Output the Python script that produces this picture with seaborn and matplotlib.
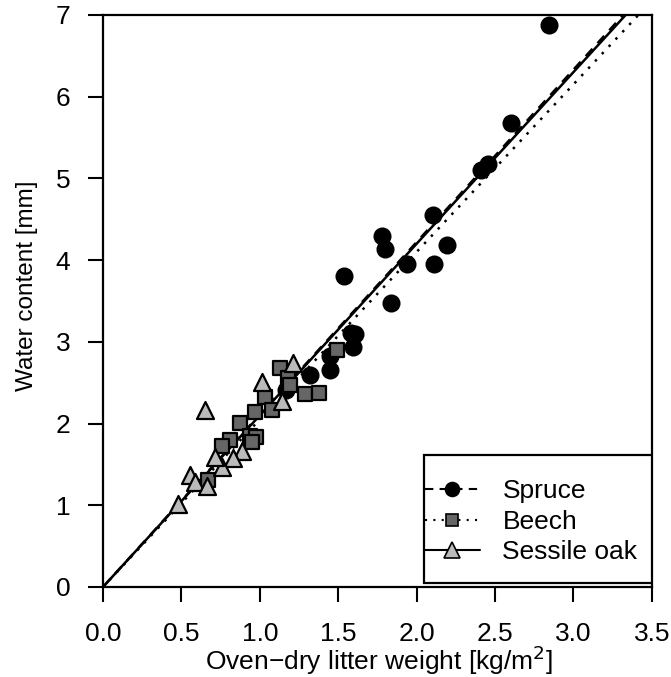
import numpy as np
import pandas as pd
import seaborn as sns
import matplotlib
matplotlib.use("Agg")
import matplotlib.pyplot as plt
from matplotlib.lines import Line2D
from matplotlib.patches import Rectangle

# ---- data ----
spruce_x = [2.845, 2.60, 2.456, 2.413, 2.105, 2.194, 2.112, 1.936, 1.776, 1.797,
            1.538, 1.836, 1.581, 1.606, 1.595, 1.447, 1.447, 1.319, 1.17]
spruce_y = [6.88, 5.68, 5.17, 5.10, 4.55, 4.19, 3.95, 3.95, 4.30, 4.13,
            3.81, 3.47, 3.105, 3.10, 2.94, 2.82, 2.66, 2.59, 2.41]
beech_x = [1.128, 1.18, 1.19, 1.032, 1.075, 0.969, 0.873, 0.809, 0.757, 0.937,
           0.975, 0.952, 0.671, 1.287, 1.377, 1.489]
beech_y = [2.68, 2.56, 2.47, 2.33, 2.17, 2.135, 2.01, 1.80, 1.72, 1.85,
           1.83, 1.77, 1.31, 2.36, 2.37, 2.90]
oak_x = [1.213, 1.011, 1.139, 0.65, 0.884, 0.83, 0.757, 0.714, 0.554, 0.586, 0.66, 0.48]
oak_y = [2.74, 2.51, 2.27, 2.17, 1.66, 1.575, 1.47, 1.595, 1.37, 1.29, 1.23, 1.02]

species = ["Spruce", "Beech", "Sessile oak"]
slopes = [2.11, 2.05, 2.10]          # regression through origin
line_styles = [(0, (4, 3)), (0, (1, 3)), "-"]
markers = ["o", "s", "^"]
fills = ["#000000", "#666666", "#bbbbbb"]
marker_sizes = [130, 110, 150]

x_ticks = [0.0, 0.5, 1.0, 1.5, 2.0, 2.5, 3.0, 3.5]
y_ticks = [0, 1, 2, 3, 4, 5, 6, 7]

df = pd.concat([
    pd.DataFrame({"x": spruce_x, "y": spruce_y, "sp": "Spruce"}),
    pd.DataFrame({"x": beech_x, "y": beech_y, "sp": "Beech"}),
    pd.DataFrame({"x": oak_x, "y": oak_y, "sp": "Sessile oak"}),
])

sns.set_style("ticks")
plt.rcParams["font.family"] = ["Liberation Sans", "DejaVu Sans"]
plt.rcParams["text.color"] = "black"
plt.rcParams["axes.labelcolor"] = "black"
plt.rcParams["xtick.color"] = "black"
plt.rcParams["ytick.color"] = "black"
FS = 19

fig = plt.figure(figsize=(6.71, 6.77), dpi=100)
ax = fig.add_axes([0.1535, 0.133, 0.818, 0.845])

# regression lines
xl = np.array([0.0, 3.6])
for sp, k, ls in zip(species, slopes, line_styles):
    ax.plot(xl, k * xl, color="black", lw=1.8, linestyle=ls, zorder=2)

for sp, m, f, s in zip(species, markers, fills, marker_sizes):
    sub = df[df.sp == sp]
    sns.scatterplot(data=sub, x="x", y="y", marker=m, color=f, s=s,
                    edgecolor="black", linewidth=1.6, ax=ax, zorder=3, legend=False)

ax.set_xlim(0, 3.5)
ax.set_ylim(0, 7)
ax.set_xticks(x_ticks)
ax.set_xticklabels([f"{v:.1f}" for v in x_ticks])
ax.set_yticks(y_ticks)
ax.set_yticklabels([str(v) for v in y_ticks])
ax.tick_params(axis="both", length=11, width=1.5, direction="out",
               labelsize=FS, color="black", labelcolor="black")
ax.tick_params(axis="x", pad=14)
ax.tick_params(axis="y", pad=12.5)
for sp_ in ax.spines.values():
    sp_.set_linewidth(1.6)
    sp_.set_color("black")

ax.set_xlabel("Oven\u2212dry litter weight [kg/m$^2$]", fontsize=FS, color="black")
ax.xaxis.set_label_coords(0.502, -0.099)
ax.set_ylabel("Water content [mm]", fontsize=17.5, color="black")
ax.yaxis.set_label_coords(-0.118, 0.526)

# legend frame (box) and entries
ax.add_patch(Rectangle((0.584, 0.007), 0.416, 0.224, transform=ax.transAxes,
                       facecolor="white", edgecolor="black", lw=1.6, zorder=5))
handles = [Line2D([0], [0], color="black", lw=1.5, linestyle=ls, marker=m,
                  markerfacecolor=f, markeredgecolor="black", markersize=ms,
                  markeredgewidth=1.2)
           for ls, m, f, ms in zip(line_styles, markers, fills, [10, 8, 11])]
leg = ax.legend(handles, species, loc="center left", bbox_to_anchor=(0.586, 0.114),
                fontsize=FS, frameon=False, borderpad=0.0, labelspacing=0.25,
                handlelength=2.1, handletextpad=0.85, borderaxespad=0.0,
                labelcolor="black")
leg.set_zorder(6)

fig.savefig("out.png", dpi=100)
